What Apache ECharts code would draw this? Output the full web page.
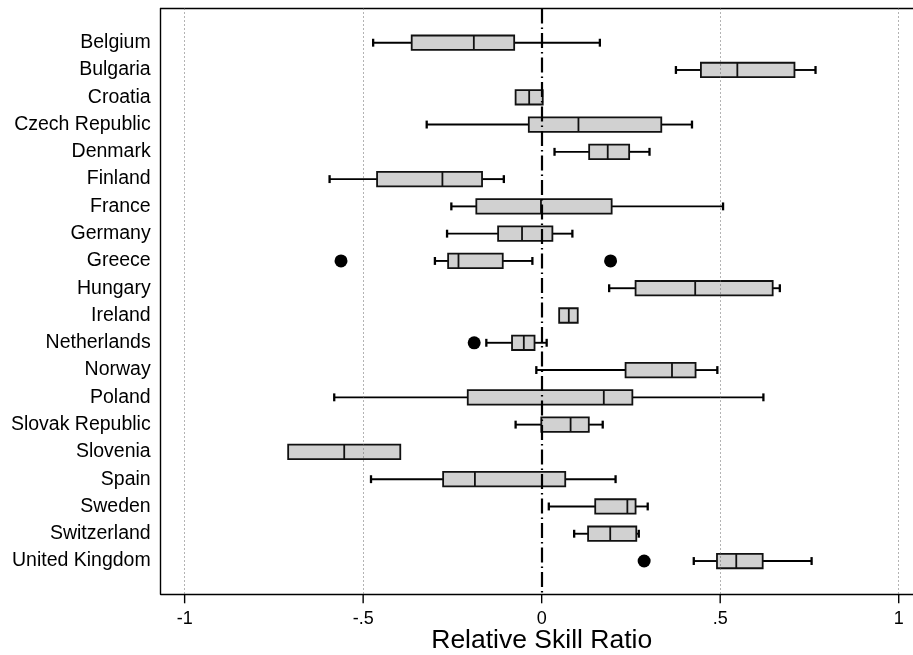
<!DOCTYPE html>
<html>
<head>
<meta charset="utf-8">
<script src="https://cdn.jsdelivr.net/npm/echarts@6/dist/echarts.min.js"></script>
<style>
  html, body { margin: 0; padding: 0; background: #fff; }
  #chart { width: 913px; height: 655px; }
</style>
</head>
<body>
<div id="chart"></div>
<script>
// Country list, top to bottom
const countries = ["Belgium", "Bulgaria", "Croatia", "Czech Republic", "Denmark", "Finland", "France",
  "Germany", "Greece", "Hungary", "Ireland", "Netherlands", "Norway", "Poland", "Slovak Republic",
  "Slovenia", "Spain", "Sweden", "Switzerland", "United Kingdom"];

// Box plot statistics per country
const whiskerLow  = [-0.472, 0.376, -0.073, -0.322, 0.036, -0.594, -0.253, -0.265, -0.299, 0.189,
                      0.049, -0.155, -0.015, -0.581, -0.073, -0.710, -0.478, 0.020, 0.091, 0.426];
const quartile1   = [-0.364, 0.446, -0.073, -0.036, 0.133, -0.461, -0.183, -0.122, -0.262, 0.263,
                      0.049, -0.083, 0.235, -0.207, -0.001, -0.710, -0.276, 0.150, 0.130, 0.491];
const medians     = [-0.190, 0.548, -0.035, 0.103, 0.185, -0.278, -0.002, -0.055, -0.233, 0.430,
                      0.076, -0.050, 0.365, 0.174, 0.081, -0.553, -0.187, 0.240, 0.192, 0.545];
const quartile3   = [-0.077, 0.708, 0.003, 0.335, 0.245, -0.167, 0.196, 0.030, -0.109, 0.647,
                      0.101, -0.020, 0.431, 0.254, 0.132, -0.396, 0.066, 0.263, 0.265, 0.619];
const whiskerHigh = [0.163, 0.767, 0.003, 0.421, 0.302, -0.106, 0.508, 0.086, -0.026, 0.667,
                      0.101, 0.014, 0.492, 0.621, 0.171, -0.396, 0.207, 0.297, 0.272, 0.756];

// Outside values: country and value
const outlierCountry = ["Greece", "Greece", "Netherlands", "United Kingdom"];
const outlierValue   = [-0.562, 0.193, -0.189, 0.287];

// X axis tick positions and their printed form
const xTicks = [-1, -0.5, 0, 0.5, 1];
const xTickText = { "-1": "-1", "-0.5": "-.5", "0": "0", "0.5": ".5", "1": "1" };

// Row range of the frame (rows run 1..20 from the top)
const Y_MIN = -0.254, Y_MAX = 21.22;

const rowIndex = countries.map((_, i) => i + 1);

const boxData = countries.map((c, i) => [i + 1, whiskerLow[i], quartile1[i], medians[i], quartile3[i], whiskerHigh[i]]);
const outlierData = outlierCountry.map((c, k) => [outlierValue[k], countries.indexOf(c) + 1]);
const tickData = xTicks.map(v => [v, Y_MAX]);

const FONT = 'Liberation Sans, Arial, Helvetica, sans-serif';

function renderBox(params, api) {
  const y = api.value(0);
  const lo = api.value(1), q1 = api.value(2), md = api.value(3), q3 = api.value(4), hi = api.value(5);
  const band = api.size([0, 1])[1];
  const boxH = band * 0.53;
  const capH = band * 0.29;
  const pLo = api.coord([lo, y]), pQ1 = api.coord([q1, y]), pMd = api.coord([md, y]);
  const pQ3 = api.coord([q3, y]), pHi = api.coord([hi, y]);
  const cy = pMd[1];
  const lineStyle = { stroke: '#000', lineWidth: 1.9 };
  const capStyle = { stroke: '#000', lineWidth: 2.3 };
  const children = [];
  if (lo < q1) {
    children.push({ type: 'line', shape: { x1: pLo[0], y1: cy, x2: pQ1[0], y2: cy }, style: lineStyle });
    children.push({ type: 'line', shape: { x1: pLo[0], y1: cy - capH / 2, x2: pLo[0], y2: cy + capH / 2 }, style: capStyle });
  }
  if (hi > q3) {
    children.push({ type: 'line', shape: { x1: pQ3[0], y1: cy, x2: pHi[0], y2: cy }, style: lineStyle });
    children.push({ type: 'line', shape: { x1: pHi[0], y1: cy - capH / 2, x2: pHi[0], y2: cy + capH / 2 }, style: capStyle });
  }
  children.push({
    type: 'rect',
    shape: { x: pQ1[0], y: cy - boxH / 2, width: pQ3[0] - pQ1[0], height: boxH },
    style: { fill: '#d1d1d1', stroke: '#111', lineWidth: 1.8 }
  });
  children.push({ type: 'line', shape: { x1: pMd[0], y1: cy - boxH / 2, x2: pMd[0], y2: cy + boxH / 2 }, style: { stroke: '#111', lineWidth: 1.8 } });
  return { type: 'group', children: children };
}

// Outward tick marks below the frame at each x tick value
function renderTick(params, api) {
  const p = api.coord([api.value(0), api.value(1)]);
  return {
    type: 'group',
    children: [{
      type: 'rect',
      shape: { x: p[0] - 0.7, y: p[1], width: 1.4, height: 9 },
      style: { fill: '#000' }
    }]
  };
}

const chart = echarts.init(document.getElementById('chart'), null, { renderer: 'canvas' });

chart.setOption({
  animation: false,
  backgroundColor: '#fff',
  grid: [
    // plot frame holding the boxes
    { left: 160.7, right: 0, top: 8.5, bottom: 60.7, containLabel: false, outerBoundsMode: 'none' },
    // scale strip from -1 to 1, carrying the tick labels and the title
    { left: 184.7, right: 14.3, top: 8.5, bottom: 60.7, containLabel: false, outerBoundsMode: 'none' }
  ],
  xAxis: [
    {
      gridIndex: 0,
      type: 'value',
      position: 'bottom',
      min: -1.067, max: 1.040,
      axisLine: { show: true, onZero: false, lineStyle: { color: '#000', width: 1.4 } },
      splitLine: { show: false },
      axisTick: { show: false },
      axisLabel: { show: false }
    },
    {
      // top edge of the plot frame
      gridIndex: 0,
      type: 'value',
      position: 'top',
      min: -1.067, max: 1.040,
      axisLine: { show: true, onZero: false, lineStyle: { color: '#000', width: 1.4 } },
      splitLine: { show: false },
      axisTick: { show: false },
      axisLabel: { show: false }
    },
    {
      gridIndex: 1,
      type: 'value',
      position: 'bottom',
      min: -1, max: 1, interval: 0.5,
      axisLine: { show: false, onZero: false },
      splitLine: { show: false },
      axisTick: { show: false },
      axisLabel: {
        formatter: v => xTickText[String(v)] ?? String(v),
        color: '#000', fontSize: 18, fontFamily: FONT, margin: 16,
        showMinLabel: true, showMaxLabel: true
      },
      name: 'Relative Skill Ratio',
      nameLocation: 'middle',
      nameGap: 33,
      nameMoveOverlap: false,
      nameTextStyle: { color: '#000', fontSize: 26.5, fontFamily: FONT }
    }
  ],
  yAxis: [
    {
      gridIndex: 0,
      type: 'value',
      inverse: true,
      min: Y_MIN, max: Y_MAX,
      axisLine: { show: true, onZero: false, lineStyle: { color: '#000', width: 1.4 } },
      splitLine: { show: false },
      axisTick: { show: false },
      axisLabel: {
        customValues: rowIndex,
        formatter: v => countries[v - 1] || '',
        color: '#000', fontSize: 19.5, fontFamily: FONT, margin: 10
      }
    },
    {
      gridIndex: 1,
      type: 'value',
      min: 0, max: 1,
      axisLine: { show: false, onZero: false },
      axisTick: { show: false },
      axisLabel: { show: false },
      splitLine: { show: false }
    }
  ],
  series: [
    {
      // reference lines: dotted grid at the ticks, dash-dot line at zero
      type: 'line',
      xAxisIndex: 0,
      yAxisIndex: 0,
      data: [],
      z: 1,
      silent: true,
      markLine: {
        symbol: 'none',
        silent: true,
        label: { show: false },
        data: [
          { xAxis: -1, lineStyle: { type: [1, 3], color: '#666', width: 1 } },
          { xAxis: -0.5, lineStyle: { type: [1, 3], color: '#666', width: 1 } },
          { xAxis: 0.5, lineStyle: { type: [1, 3], color: '#666', width: 1 } },
          { xAxis: 1, lineStyle: { type: [1, 3], color: '#666', width: 1 } },
          { xAxis: 0, lineStyle: { type: [15, 4, 1.5, 4], color: '#000', width: 2.2 } }
        ]
      }
    },
    {
      // tick marks hanging below the bottom edge
      type: 'custom',
      xAxisIndex: 0,
      yAxisIndex: 0,
      z: 5,
      silent: true,
      renderItem: renderTick,
      encode: { x: 0, y: 1 },
      data: tickData,
      clip: false
    },
    {
      type: 'custom',
      xAxisIndex: 0,
      yAxisIndex: 0,
      z: 3,
      renderItem: renderBox,
      encode: { y: 0, x: [1, 2, 3, 4, 5] },
      data: boxData,
      clip: false
    },
    {
      type: 'scatter',
      xAxisIndex: 0,
      yAxisIndex: 0,
      z: 4,
      symbol: 'circle',
      symbolSize: 13,
      itemStyle: { color: '#000', opacity: 1 },
      data: outlierData
    }
  ]
});
</script>
</body>
</html>
